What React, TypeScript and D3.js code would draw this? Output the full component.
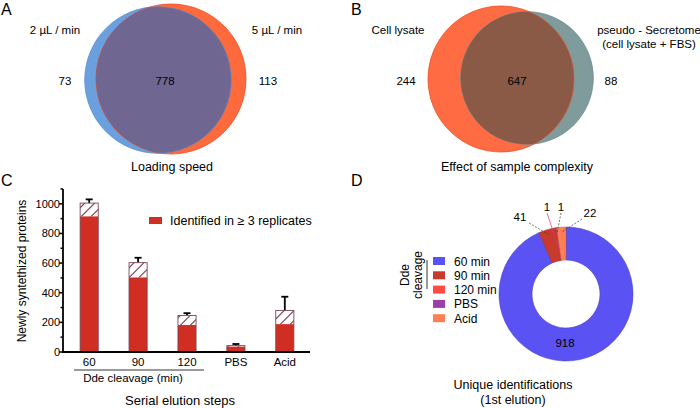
import React from 'react';
import * as d3 from 'd3';

// Venn A: loading speed
const vennALabels = ['2 µL / min', '5 µL / min'];
const vennAOnly = [73, 113];
const vennAShared = 778;

// Venn B: sample complexity
const vennBLabels = ['Cell lysate', 'pseudo - Secretome', '(cell lysate + FBS)'];
const vennBOnly = [244, 88];
const vennBShared = 647;

// Bar chart C
const barCats = ['60', '90', '120', 'PBS', 'Acid'];
const barTotal = [1005, 603, 246, 43, 280];
const barRepl = [915, 503, 182, 36, 188];
const barErr = [1030, 636, 262, 54, 373];
const yTicks = [0, 200, 400, 600, 800, 1000];
const yMinor = [100, 300, 500, 700, 900, 1100];

// Donut D
const pieLabels = ['60 min', '90 min', '120 min', 'PBS', 'Acid'];
const pieValues = [918, 41, 1, 1, 22];
const pieColors = ['#5a52f2', '#c93a2e', '#ff4a45', '#9b3fa9', '#ff7f55'];

const font = 'Arial, "Liberation Sans", sans-serif';

function Venn({ cx, cy, sizes, colors, overlap, stroke, id, rmax }) {
  const r = d3.scaleSqrt().domain([0, 891]).range([0, rmax]);
  const r0 = r(sizes[0]);
  const r1 = r(sizes[1]);
  return (
    <g>
      <defs>
        <clipPath id={id}>
          <circle cx={cx[1]} cy={cy[1]} r={r1} />
        </clipPath>
      </defs>
      <circle cx={cx[0]} cy={cy[0]} r={r0} fill={colors[0]} stroke={stroke[0]} strokeWidth={0.8} />
      <circle cx={cx[1]} cy={cy[1]} r={r1} fill={colors[1]} stroke={stroke[1]} strokeWidth={0.8} />
      <circle cx={cx[0]} cy={cy[0]} r={r0} fill={overlap} stroke={stroke[0]} strokeWidth={0.6} clipPath={`url(#${id})`} />
    </g>
  );
}

export default function App() {
  // bar chart scales
  const x = d3.scaleBand().domain(barCats).range([64, 310]).paddingInner(0.63).paddingOuter(0.33);
  const y = d3.scaleLinear().domain([0, 1100]).range([352, 189]);
  const bw = x.bandwidth();

  // donut
  const pie = d3.pie<number>().sort(null).value(d => d)(pieValues);
  const arc = d3.arc<any>().innerRadius(34).outerRadius(67);
  const pcx = 566, pcy = 294;
  const outerPt = (a: number, rr: number) => [pcx + rr * Math.sin(a), pcy - rr * Math.cos(a)];

  const pieLabelPos = [null, [520, 225], [547, 215], [561, 215], [590, 221]];

  return (
    <svg width={700} height={408} style={{ position: 'absolute', left: 0, top: 0 }} fontFamily={font}>
      <defs>
        <pattern id="hatch" width={7} height={7} patternUnits="userSpaceOnUse" patternTransform="rotate(45)">
          <rect width={7} height={7} fill="#fff" />
          <line x1={0} y1={0} x2={0} y2={7} stroke="#6b2c3c" strokeWidth={2.2} />
        </pattern>
      </defs>
      <rect width={700} height={408} fill="#fff" />

      {/* Panel letters */}
      <text x={1} y={15} fontSize={16}>A</text>
      <text x={351} y={15} fontSize={16}>B</text>
      <text x={1} y={186} fontSize={16}>C</text>
      <text x={351} y={186} fontSize={16}>D</text>

      {/* A */}
      <Venn id="clipA" rmax={75} cx={[158, 171]} cy={[80, 79]} sizes={[vennAOnly[0] + vennAShared, vennAOnly[1] + vennAShared]}
        colors={['#6aa0dd', '#ff6a3c']} overlap="#6f6791" stroke={['#5b8fd0', '#f04a1e']} />
      <g fontSize={11.5} textAnchor="middle">
        <text x={55} y={34}>{vennALabels[0]}</text>
        <text x={277} y={34}>{vennALabels[1]}</text>
        <text x={65} y={85}>{vennAOnly[0]}</text>
        <text x={165} y={85}>{vennAShared}</text>
        <text x={268} y={85}>{vennAOnly[1]}</text>
        <text x={172} y={171} fontSize={12.5}>Loading speed</text>
      </g>

      {/* B */}
      <Venn id="clipB" rmax={73} cx={[501, 527]} cy={[79, 78]} sizes={[vennBOnly[0] + vennBShared, vennBOnly[1] + vennBShared]}
        colors={['#ff6b42', '#7f9b9c']} overlap="#8b5a47" stroke={['#f04c22', '#6d8a8b']} />
      <g fontSize={11.5} textAnchor="middle">
        <text x={398} y={34}>{vennBLabels[0]}</text>
        <text x={649} y={34}>{vennBLabels[1]}</text>
        <text x={649} y={48}>{vennBLabels[2]}</text>
        <text x={406} y={85}>{vennBOnly[0]}</text>
        <text x={517} y={85}>{vennBShared}</text>
        <text x={611} y={85}>{vennBOnly[1]}</text>
        <text x={517} y={171} fontSize={12.5}>Effect of sample complexity</text>
      </g>

      {/* C bar chart */}
      <g>
        {barCats.map((c, i) => {
          const x0 = x(c)!;
          const cx = x0 + bw / 2;
          return (
            <g key={c}>
              <line x1={cx} x2={cx} y1={y(barTotal[i])} y2={y(barErr[i])} stroke="#000" strokeWidth={1.8} />
              <line x1={cx - 3.5} x2={cx + 3.5} y1={y(barErr[i])} y2={y(barErr[i])} stroke="#000" strokeWidth={1.8} />
              <rect x={x0} y={y(barTotal[i])} width={bw} height={y(barRepl[i]) - y(barTotal[i])} fill="url(#hatch)" />
              <rect x={x0} y={y(barRepl[i])} width={bw} height={y(0) - y(barRepl[i])} fill="#d02e22" />
              <rect x={x0} y={y(barTotal[i])} width={bw} height={y(0) - y(barTotal[i])} fill="none" stroke="#7a4658" strokeWidth={0.9} />
            </g>
          );
        })}
        <line x1={63} x2={63} y1={y(1100)} y2={y(0)} stroke="#000" strokeWidth={1.8} />
        <line x1={62} x2={310} y1={y(0)} y2={y(0)} stroke="#000" strokeWidth={1.8} />
        {yTicks.map(t => (
          <g key={t}>
            <line x1={59} x2={63} y1={y(t)} y2={y(t)} stroke="#000" strokeWidth={1.5} />
            <text x={60} y={y(t) + 3.8} fontSize={11} textAnchor="end">{t}</text>
          </g>
        ))}
        {yMinor.map(t => (
          <line key={t} x1={60.5} x2={63} y1={y(t)} y2={y(t)} stroke="#000" strokeWidth={1.5} />
        ))}
        {barCats.map(c => (
          <text key={c} x={x(c)! + bw / 2} y={366} fontSize={11.5} textAnchor="middle">{c}</text>
        ))}
        <line x1={74} x2={204} y1={370} y2={370} stroke="#000" strokeWidth={0.8} />
        <text x={133} y={382} fontSize={11.5} textAnchor="middle">Dde cleavage (min)</text>
        <text x={180} y={405} fontSize={13} textAnchor="middle">Serial elution steps</text>
        <text transform="translate(26,271) rotate(-90)" fontSize={12} textAnchor="middle">Newly syntethized proteins</text>
        <rect x={149} y={217} width={13} height={7} fill="#d02e22" />
        <text x={170} y={225} fontSize={12.5}>Identified in ≥ 3 replicates</text>
      </g>

      {/* D donut */}
      <g transform={`translate(${pcx},${pcy})`}>
        {pie.map((p, i) => (
          <path key={i} d={arc(p)!} fill={pieColors[i]} stroke={d3.color(pieColors[i])!.darker(0.6).toString()} strokeWidth={0.6} />
        ))}
      </g>
      {pie.map((p, i) => {
        if (i === 0) return null;
        const a = (p.startAngle + p.endAngle) / 2;
        const [sx, sy] = outerPt(a, i === 2 ? 45 : 62);
        const lp = pieLabelPos[i]!;
        const lx = lp[0] + (i === 1 ? 9 : i === 4 ? -8 : 0);
        const ly = lp[1] - 2;
        return (
          <line key={i} x1={lx} y1={ly} x2={sx} y2={sy}
            stroke={i === 2 ? '#e0306a' : '#333'} strokeWidth={0.7} strokeDasharray={i === 2 ? null : '2,1.5'} />
        );
      })}
      {pie.map((p, i) => {
        if (i === 0) return null;
        const lp = pieLabelPos[i]!;
        return (
          <text key={i} x={lp[0]} y={lp[1] - 4} fontSize={11.5} textAnchor="middle">{pieValues[i]}</text>
        );
      })}
      <text x={565} y={347} fontSize={11.5} textAnchor="middle">{pieValues[0]}</text>

      {/* legend */}
      {pieLabels.map((l, i) => (
        <g key={l}>
          <rect x={433} y={257 + i * 14.3} width={12} height={8} fill={pieColors[i]} />
          <text x={454} y={265.5 + i * 14.3} fontSize={12}>{l}</text>
        </g>
      ))}
      <line x1={427} x2={427} y1={260} y2={289} stroke="#000" strokeWidth={0.8} />
      <text transform="translate(409,275) rotate(-90)" fontSize={12} textAnchor="middle">Dde</text>
      <text transform="translate(422,275) rotate(-90)" fontSize={12} textAnchor="middle">cleavage</text>
      <text x={513} y={389} fontSize={12.5} textAnchor="middle">Unique identifications</text>
      <text x={513} y={404} fontSize={12.5} textAnchor="middle">(1st elution)</text>
    </svg>
  );
}
